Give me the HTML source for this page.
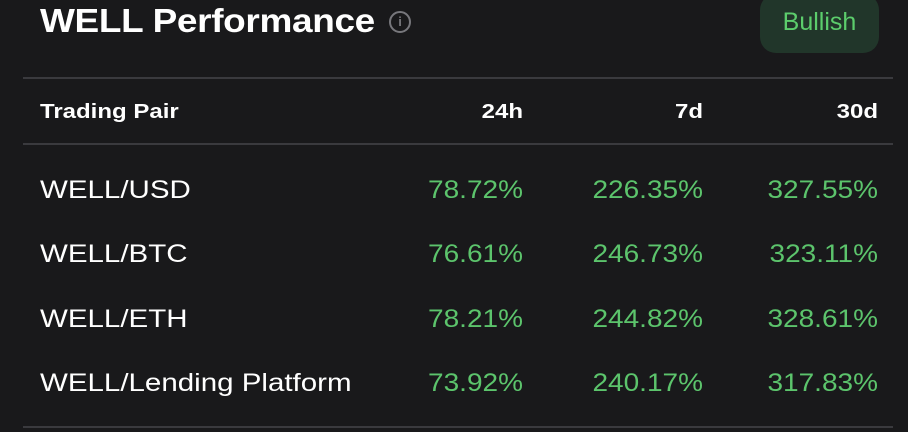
<!DOCTYPE html>
<html><head><meta charset="utf-8"><style>
html,body{margin:0;padding:0;background:#19191b;width:908px;height:432px;overflow:hidden;font-family:"Liberation Sans",sans-serif;color:#fff}
.abs{position:absolute}
.title{left:40px;top:0px;font-size:33px;font-weight:bold;line-height:42px;letter-spacing:-0.3px;transform:scaleX(1.12);transform-origin:left center}
.info{left:389px;top:11px;width:22px;height:22px;border:2px solid #77777c;border-radius:50%;box-sizing:border-box;color:#77777c;font-size:13px;font-weight:bold;text-align:center;line-height:18px}
.badge{left:760px;top:-6px;width:119px;height:59px;background:#21362a;border-radius:16px;color:#5ccd6c;font-size:25px;text-align:center;line-height:56px}
.hr{left:23px;width:870px;height:2px;background:#3a3a3e}
.hd{font-size:20px;font-weight:bold;top:100px;line-height:24px;transform:scaleX(1.2)}
.cell{font-size:25px;line-height:30px}
.l{transform:scaleX(1.18);transform-origin:left center}
.g{color:#5cc46c;transform:scaleX(1.12);transform-origin:right center}
.r{text-align:right;width:200px;transform-origin:right center}
.hl{transform-origin:left center}
</style></head><body>
<div class="abs title">WELL Performance</div>
<div class="abs info">i</div>
<div class="abs badge">Bullish</div>
<div class="abs hr" style="top:77px"></div>
<div class="abs hd hl" style="left:40px">Trading Pair</div>
<div class="abs hd r" style="left:323px">24h</div>
<div class="abs hd r" style="left:503px">7d</div>
<div class="abs hd r" style="left:678px">30d</div>
<div class="abs hr" style="top:143px"></div>
<div id="rows"></div>
<div class="abs hr" style="top:426px"></div>
<script>
const pairs=["WELL/USD","WELL/BTC","WELL/ETH","WELL/Lending Platform"];
const h24=["78.72%","76.61%","78.21%","73.92%"];
const d7=["226.35%","246.73%","244.82%","240.17%"];
const d30=["327.55%","323.11%","328.61%","317.83%"];
const rows=document.getElementById('rows');
pairs.forEach((p,i)=>{
  const top=175+i*64.3;
  const cols=[[p,40,false,'pair-name'],[h24[i],323,true,'change-24h'],[d7[i],503,true,'change-7d'],[d30[i],678,true,'change-30d']];
  cols.forEach(c=>{
    const el=document.createElement('div');
    el.className='abs cell'+(c[2]?' g r':' l');
    el.style.left=c[1]+'px';el.style.top=top+'px';
    el.textContent=c[0];
    
    
    rows.appendChild(el);
  });
});
</script>
</body></html>
